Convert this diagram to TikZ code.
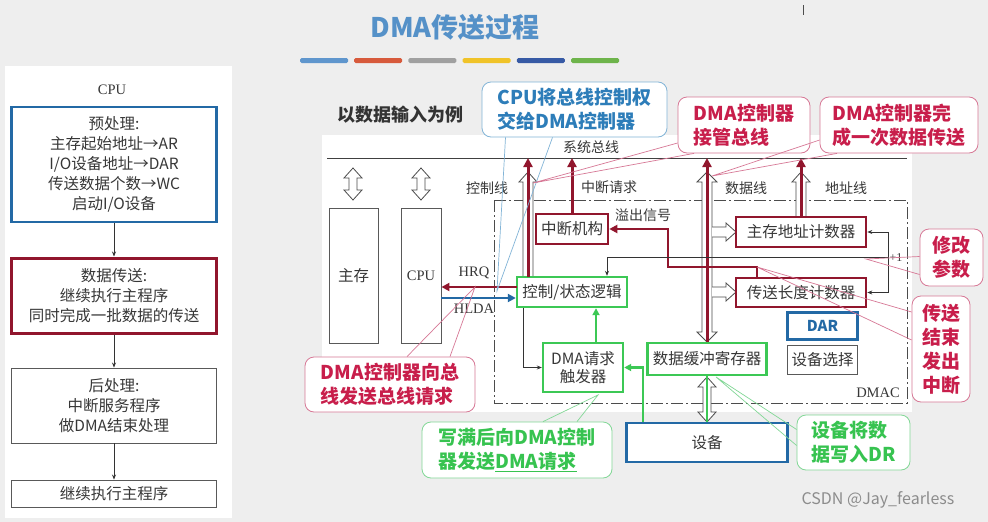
\documentclass[tikz,border=0pt]{standalone}
\usepackage{fontspec}
\setmainfont{Noto Sans CJK SC}
\newfontfamily\enserif{Liberation Serif}
\usepackage{tikz}
\usetikzlibrary{arrows.meta,positioning}

\definecolor{pagegray}{RGB}{238,238,238}
\definecolor{txtgray}{RGB}{55,55,55}
\definecolor{dmared}{RGB}{145,22,45}
\definecolor{boxblue}{RGB}{35,105,165}
\definecolor{boxgreen}{RGB}{60,200,85}
\definecolor{callred}{RGB}{200,30,75}
\definecolor{callredline}{RGB}{215,120,150}
\definecolor{callblue}{RGB}{45,125,185}
\definecolor{callblueline}{RGB}{130,180,215}
\definecolor{callgreen}{RGB}{55,195,80}
\definecolor{callgreenline}{RGB}{130,215,150}
\definecolor{titleblue}{RGB}{85,145,200}
\definecolor{barblue}{RGB}{95,150,205}
\definecolor{barred}{RGB}{215,90,60}
\definecolor{bargray}{RGB}{160,160,160}
\definecolor{baryellow}{RGB}{240,195,40}
\definecolor{bardblue}{RGB}{55,90,165}
\definecolor{bargreen}{RGB}{110,180,75}

\newcommand{\hollowvv}[5]{\draw[hollow] (#1-#4,#2+10) -- (#1-#5,#2+10) -- (#1,#2) -- (#1+#5,#2+10) -- (#1+#4,#2+10) -- (#1+#4,#3-10) -- (#1+#5,#3-10) -- (#1,#3) -- (#1-#5,#3-10) -- (#1-#4,#3-10) -- cycle;}
\newcommand{\hollowup}[5]{\draw[hollow] (#1-#4,#3) -- (#1-#4,#2+10) -- (#1-#5,#2+10) -- (#1,#2) -- (#1+#5,#2+10) -- (#1+#4,#2+10) -- (#1+#4,#3);}
\newcommand{\hollowright}[5]{\draw[hollow] (#2,#1-#4) -- (#3-10,#1-#4) -- (#3-10,#1-#5) -- (#3,#1) -- (#3-10,#1+#5) -- (#3-10,#1+#4) -- (#2,#1+#4);}

\begin{document}
\begin{tikzpicture}[x=1pt,y=-1pt,
  every node/.style={inner sep=0pt,text=txtgray},
  lefttext/.style={font=\fontsize{15.5}{20}\selectfont,align=center},
  flowbox/.style={draw=black!65,line width=0.9pt,fill=white,minimum width=205,lefttext},
  unitbox/.style={draw=black!65,line width=0.9pt,fill=white,font=\fontsize{15.5}{18}\selectfont,align=center},
  redunit/.style={unitbox,draw=dmared,line width=2.6pt},
  greenunit/.style={unitbox,draw=boxgreen,line width=2.4pt},
  blueunit/.style={unitbox,draw=boxblue,line width=2.4pt},
  lbl/.style={font=\fontsize{14}{16}\selectfont},
  enlbl/.style={font=\enserif\fontsize{14.5}{16}\selectfont},
  hollow/.style={draw=black!70,line width=0.8pt,fill=white},
  dmacline/.style={draw=black!70,line width=0.9pt,dash pattern=on 12pt off 3pt on 2pt off 3pt},
  redbus/.style={draw=dmared,line width=3pt,-{Triangle[length=9pt,width=9pt]}},
  redwire/.style={draw=dmared,line width=2.8pt,-{Triangle[length=8pt,width=8pt]}},
  bluewire/.style={draw=boxblue,line width=2.6pt,-{Triangle[length=8pt,width=8pt]}},
  wire/.style={draw=black!80,line width=0.7pt,-{Stealth[length=5pt,width=4pt]}},
  greenwire/.style={draw=boxgreen,line width=2.2pt,-{Triangle[length=7pt,width=7pt]}},
  note/.style={draw,rounded corners=9pt,line width=0.8pt,fill=white,font=\bfseries\fontsize{19}{24}\selectfont,align=left},
  rednote/.style={note,draw=callredline,text=callred},
  bluenote/.style={note,draw=callblueline,text=callblue},
  greennote/.style={note,draw=callgreenline,text=callgreen},
  redpointer/.style={draw=callredline,line width=0.7pt},
  bluepointer/.style={draw=callblueline,line width=0.7pt},
  greenpointer/.style={draw=callgreenline,line width=0.7pt}
  ]
\useasboundingbox (0,0) rectangle (988,522);
\fill[pagegray] (0,0) rectangle (988,522);
\fill[white] (5,66) rectangle (232,518);
\fill[white] (322,135) rectangle (912,412);
\draw[black!70,line width=0.8pt] (803,5) -- (803,15);

\node[font=\bfseries\fontsize{27}{30}\selectfont,text=titleblue] (title) at (455,27) {DMA传送过程};
\foreach \c [count=\i] in {barblue,barred,bargray,baryellow,bardblue,bargreen}
  \fill[\c,rounded corners=1.5pt] ({300+54.2*(\i-1)},58) rectangle +(48,5);

\node[font=\enserif\fontsize{14.5}{16}\selectfont] (cpuhead) at (112,90) {CPU};
\node[flowbox,draw=boxblue,line width=2.6pt,minimum height=115] (pre) at (114,164.5) {预处理:\\主存起始地址→AR\\I/O设备地址→DAR\\传送数据个数→WC\\启动I/O设备};
\node[flowbox,draw=dmared,line width=3pt,minimum height=75] (xfer) at (114,295.5) {数据传送:\\继续执行主程序\\同时完成一批数据的传送};
\node[flowbox,minimum height=75] (post) at (114,405.5) {后处理:\\中断服务程序\\做DMA结束处理};
\node[flowbox,minimum height=27] (cont) at (114,493.5) {继续执行主程序};
\draw[wire] (pre.south) -- (xfer.north);
\draw[wire] (xfer.south) -- (post.north);
\draw[wire] (post.south) -- (cont.north);

\node[font=\bfseries\fontsize{18}{20}\selectfont,text=black!80] (example) at (400,115) {以数据输入为例};
\coordinate (busL) at (327,158);
\coordinate (busR) at (907,158);
\draw[black!75,line width=1pt] (busL) -- (busR);
\node[lbl] (buslbl) at (591,147) {系统总线};

\draw[dmacline] (494,200) rectangle (907,403);
\node[enlbl] (dmac) at (878,393) {DMAC};

\hollowvv{353}{168}{200}{4}{9}
\hollowvv{421}{168}{200}{4}{9}
\hollowup{528}{172}{277}{5}{9}
\hollowvv{707}{172}{342}{5}{10}
\hollowup{801}{172}{217}{5}{9}
\hollowright{232}{712}{736}{5}{9}
\hollowright{292}{712}{736}{5}{9}
\hollowvv{707}{377}{422}{4}{9}

\node[lbl] (ctrllbl) at (487,188) {控制线};
\node[lbl] (intrlbl) at (609,187) {中断请求};
\node[lbl] (datalbl) at (746,188) {数据线};
\node[lbl] (addrlbl) at (846,188) {地址线};
\node[lbl] (ovflbl) at (643,215) {溢出信号};
\node[enlbl,font=\enserif\fontsize{12}{14}\selectfont] (inclbl) at (896,258) {+1};

\node[unitbox,minimum width=49,minimum height=135] (mem) at (353.5,275.5) {主存};
\node[unitbox,minimum width=40,minimum height=135,font=\enserif\fontsize{14.5}{16}\selectfont] (cpu) at (421,275.5) {CPU};
\node[greenunit,minimum width=110,minimum height=30] (ctrl) at (572,292) {控制/状态逻辑};
\node[redunit,minimum width=72,minimum height=30] (intr) at (572,229) {中断机构};
\node[greenunit,minimum width=80,minimum height=49] (trig) at (583,367.5) {DMA请求\\触发器};
\node[greenunit,minimum width=119,minimum height=32] (buf) at (707,359) {数据缓冲寄存器};
\node[blueunit,minimum width=161,minimum height=39] (dev) at (707,442.5) {设备};
\node[redunit,minimum width=130,minimum height=30] (mac) at (801,232) {主存地址计数器};
\node[redunit,minimum width=130,minimum height=29] (wc) at (801,292.5) {传送长度计数器};
\node[blueunit,minimum width=70,minimum height=27,font=\bfseries\fontsize{15}{17}\selectfont,text=boxblue] (dar) at (822.5,326) {DAR};
\node[unitbox,minimum width=70,minimum height=29] (devsel) at (822.5,360) {设备选择};

\coordinate (ctrlup) at (528,277);
\draw[redbus] (ctrlup) -- (ctrlup |- busL);
\draw[redbus] (intr.north) -- (intr.north |- busL);
\draw[redbus] (buf.north) -- (buf.north |- busL);
\draw[redbus] (mac.north) -- (mac.north |- busL);
\coordinate (ovf) at (757,278);
\draw[redwire] (ovf) |- (668,267) |- (intr.east);

\coordinate (hrq) at (517,287);
\coordinate (hlda) at (441,298);
\draw[redwire] (hrq) -- (hrq -| cpu.east);
\draw[bluewire] (hlda) -- (hlda -| ctrl.west);
\node[enlbl] (hrqlbl) at (474,273) {HRQ};
\node[enlbl] (hldalbl) at (474,309) {HLDA};

\coordinate (plus) at (888,257);
\draw[wire] (plus) -| ([xshift=35pt]ctrl.north);
\draw[black!80,line width=0.7pt] (mac.east -| plus) -- (wc.east -| plus);
\draw[wire] (mac.east -| plus) -- (mac.east);
\draw[wire] (wc.east -| plus) -- (wc.east);
\draw[wire] ([xshift=-49pt]ctrl.south) |- (trig.west);

\draw[greenwire] ([xshift=13pt]trig.north) -- ([xshift=24pt]ctrl.south);
\draw[greenwire] ([xshift=-64pt]dev.north) |- (trig.east);
\draw[boxgreen,line width=2pt] (dev.north) -- (buf.south);

\node[bluenote,minimum width=185,minimum height=55] (cBus) at (574.5,109.5) {CPU将总线控制权\\交给DMA控制器};
\coordinate (pBus) at (497,291);
\draw[bluepointer] ([xshift=-69pt]cBus.south) -- (pBus) -- ([xshift=-22pt]cBus.south);

\node[rednote,minimum width=132,minimum height=56] (cTake) at (744,125) {DMA控制器\\接管总线};
\coordinate (pTake) at (533,183);
\draw[redpointer] ([yshift=-18pt]cTake.west) -- (pTake) -- ([xshift=-50pt]cTake.south);

\node[rednote,minimum width=158,minimum height=56] (cDone) at (899,125) {DMA控制器完\\成一次数据传送};
\coordinate (pDone) at (712,176);
\draw[redpointer] ([yshift=-15pt]cDone.west) -- (pDone) -- ([xshift=-62pt]cDone.south);

\node[rednote,minimum width=63,minimum height=57] (cMod) at (951.5,257.5) {修改\\参数};
\coordinate (pMod) at (866,259);
\draw[redpointer] ([yshift=1pt]cMod.west) -- (pMod) -- ([yshift=-17pt]cMod.west);

\node[rednote,minimum width=58,minimum height=106] (cEnd) at (941,349) {传送\\结束\\发出\\中断};
\coordinate (pEnd) at (757,267);
\draw[redpointer] ([yshift=37pt]cEnd.west) -- (pEnd) -- ([yshift=9pt]cEnd.west);

\node[rednote,minimum width=170,minimum height=55] (cReq) at (390,384.5) {DMA控制器向总\\线发送总线请求};
\coordinate (pReq) at (475,287);
\draw[redpointer] ([xshift=17pt]cReq.north) -- (pReq) -- ([xshift=60pt]cReq.north);

\node[greennote,minimum width=190,minimum height=56] (cFull) at (517,450) {写满后向DMA控制\\器发送\underline{DMA请求}};
\coordinate (pFull) at (598,395);
\draw[greenpointer] ([xshift=26pt]cFull.north) -- (pFull) -- ([xshift=60pt]cFull.north);

\node[greennote,minimum width=113,minimum height=55] (cWrite) at (853.5,442.5) {设备将数\\据写入DR};
\coordinate (pWrite) at (716,377);
\draw[greenpointer] ([yshift=13pt]cWrite.west) -- (pWrite) -- ([yshift=-3pt]cWrite.west);

\node[font=\fontsize{16}{18}\selectfont,text=black!45] (mark) at (878,500) {CSDN @Jay\_fearless};
\end{tikzpicture}
\end{document}
